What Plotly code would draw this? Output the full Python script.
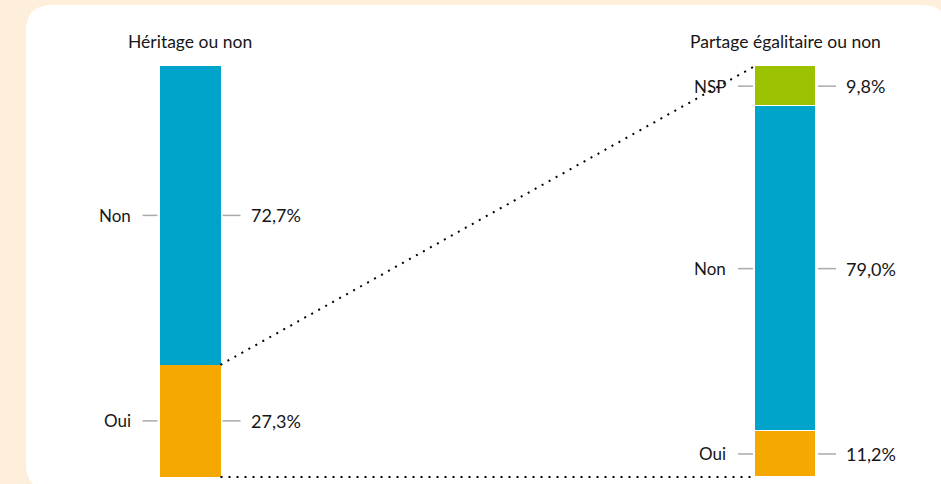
import plotly.graph_objects as go

# ---- data ----
titles = ["Héritage ou non", "Partage égalitaire ou non"]
left_categories = ["Oui", "Non"]
left_values = [27.3, 72.7]
right_categories = ["Oui", "Non", "NSP"]
right_values = [11.2, 79.0, 9.8]

colors = {"Oui": "#F5A800", "Non": "#00A3CA", "NSP": "#9BC100"}

# ---- layout (pixel-like x axis) ----
W, H = 941, 484
left_center, right_center = 190, 785.5
bar_w = 61
TXT = "#161616"
TICK = "#ababab"
FONT = "Lato"


def fmt(v):
    return f"{v:.1f}".replace(".", ",") + "%"


fig = go.Figure()

bars = [(left_center, left_categories, left_values, 0),
        (right_center, right_categories, right_values, 1)]

for cx, cats, vals, lw in bars:
    for c, v in zip(cats, vals):
        fig.add_trace(go.Bar(
            x=[cx], y=[v], width=[bar_w],
            marker=dict(color=colors[c], line=dict(color="white", width=lw)),
            hoverinfo="skip", showlegend=False))

annotations = []
shapes = []


def py(p):
    return 1 - p / H


# white rounded panel (x in pixels, y in paper)
x0, x1, t, b, r = 26, 948, 5, 490, 26
path = (f"M {x0+r},{py(t)} L {x1-r},{py(t)} Q {x1},{py(t)} {x1},{py(t+r)} "
        f"L {x1},{py(b-r)} Q {x1},{py(b)} {x1-r},{py(b)} "
        f"L {x0+r},{py(b)} Q {x0},{py(b)} {x0},{py(b-r)} "
        f"L {x0},{py(t+r)} Q {x0},{py(t)} {x0+r},{py(t)} Z")
shapes.append(dict(type="path", path=path, xref="x", yref="paper",
                   fillcolor="white", line=dict(width=0), layer="below"))

for (cx, cats, vals, _), title in zip(bars, titles):
    left_edge = cx - bar_w / 2
    right_edge = cx + bar_w / 2
    annotations.append(dict(x=cx, y=py(41), xref="x", yref="paper",
                            text=title, showarrow=False,
                            font=dict(family=FONT, size=17.5, color=TXT),
                            xanchor="center", yanchor="middle"))
    base = 0
    for c, v in zip(cats, vals):
        mid = base + v / 2
        base += v
        shapes.append(dict(type="line", xref="x", yref="y",
                           x0=left_edge - 17, x1=left_edge - 2, y0=mid, y1=mid,
                           line=dict(color=TICK, width=1.5)))
        shapes.append(dict(type="line", xref="x", yref="y",
                           x0=right_edge + 2, x1=right_edge + 20, y0=mid, y1=mid,
                           line=dict(color=TICK, width=1.5)))
        annotations.append(dict(x=left_edge - 27, y=mid, xref="x", yref="y",
                                text=c, showarrow=False,
                                font=dict(family=FONT, size=17, color=TXT),
                                xanchor="right", yanchor="middle"))
        annotations.append(dict(x=right_edge + 28, y=mid, xref="x", yref="y",
                                text=fmt(v), showarrow=False,
                                font=dict(family=FONT, size=18, color=TXT),
                                xanchor="left", yanchor="middle"))

# dotted connectors: top of left "Oui" -> top of right bar, bottom -> bottom
lx = left_center + bar_w / 2
rx = right_center - bar_w / 2
fig.add_trace(go.Scatter(x=[lx, rx], y=[left_values[0], sum(right_values)],
                         mode="lines", line=dict(color="black", width=2, dash="2px,6px"),
                         hoverinfo="skip", showlegend=False))
fig.add_trace(go.Scatter(x=[lx, rx], y=[0, 0],
                         mode="lines", line=dict(color="black", width=2, dash="2px,6px"),
                         hoverinfo="skip", showlegend=False))

# y mapping: 0 -> pixel 477, 100 -> pixel 66
scale = (477 - 66) / 100
ymin = -(H - 477) / scale
ymax = ymin + H / scale

fig.update_layout(
    width=W, height=H,
    margin=dict(l=0, r=0, t=0, b=0),
    paper_bgcolor="#FDEFDA",
    plot_bgcolor="rgba(0,0,0,0)",
    barmode="stack",
    bargap=0,
    xaxis=dict(range=[0, W], visible=False, fixedrange=True),
    yaxis=dict(range=[ymin, ymax], visible=False, fixedrange=True),
    shapes=shapes,
    annotations=annotations,
    showlegend=False,
)

fig.write_html("out.html", config={"displayModeBar": False},
               post_script="document.body.style.margin='0';document.body.style.overflow='hidden';")
